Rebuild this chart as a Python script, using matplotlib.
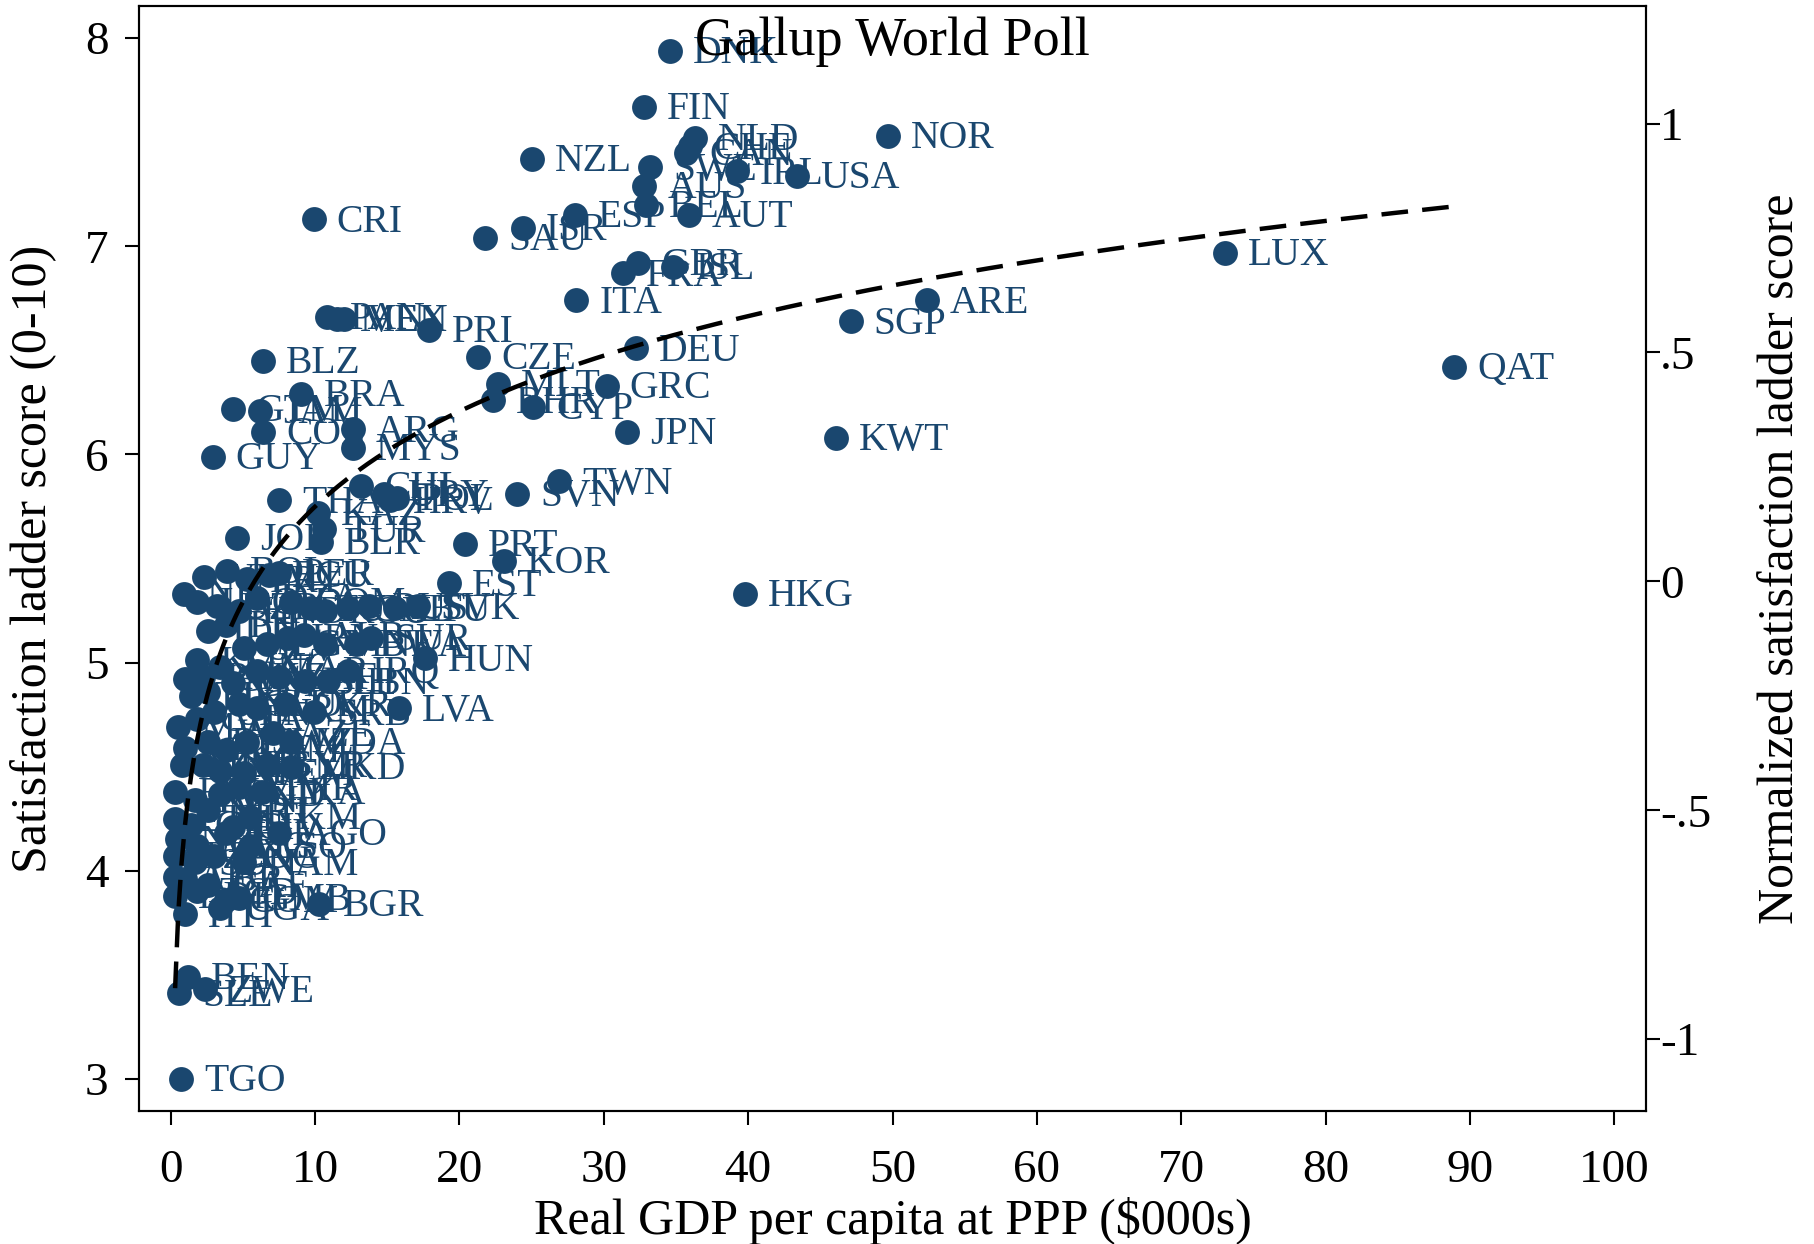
import numpy as np
import matplotlib
matplotlib.use('Agg')
import matplotlib.pyplot as plt
from matplotlib.ticker import FixedLocator, FixedFormatter

plt.rcParams['font.family'] = ['Liberation Serif', 'DejaVu Serif']

# country, real GDP per capita ($000s, PPP), satisfaction ladder score
codes = [
    'DNK', 'FIN', 'NLD', 'CHE', 'CAN', 'NOR', 'NZL', 'SWE', 'IRL', 'USA',
    'AUS', 'BEL', 'AUT', 'ESP', 'ISR', 'SAU', 'CRI', 'GBR', 'ISL', 'FRA',
    'LUX', 'ITA', 'ARE', 'PAN', 'MEX', 'VEN', 'SGP', 'PRI', 'DEU', 'CZE',
    'BLZ', 'QAT', 'MLT', 'GRC', 'BRA', 'BHR', 'CYP', 'GTM', 'JAM', 'ARG',
    'COL', 'JPN', 'KWT', 'MYS', 'GUY', 'TWN', 'CHL', 'SVN', 'URY', 'POL',
    'HRV', 'THA', 'KAZ', 'TUR', 'JOR', 'BLR', 'PRT', 'KOR', 'EST', 'HKG',
    'SVK', 'HUN', 'LVA', 'BGR', 'BEN', 'ZWE', 'SLE', 'TGO',
    'NIC', 'VNM', 'BOL', 'PRY', 'ECU', 'PER', 'LAO', 'UZB', 'HND', 'DZA',
    'DOM', 'TUN', 'ROU', 'GAB', 'RUS', 'LTU', 'IDN', 'PHL', 'KGZ', 'NGA',
    'PAK', 'MNG', 'SLV', 'EGY', 'IRN', 'ALB', 'MNE', 'BWA', 'SUR', 'TJK',
    'IND', 'CMR', 'MAR', 'ZAF', 'BIH', 'LBN', 'IRQ', 'MWI', 'GHA', 'SEN',
    'GEO', 'ARM', 'UKR', 'SRB', 'MOZ', 'BFA', 'KHM', 'SWZ', 'AZE', 'MDA',
    'MLI', 'ZMB', 'NPL', 'YEM', 'SYR', 'MKD', 'RWA', 'KEN', 'BGD', 'MMR',
    'LKA', 'ETH', 'GIN', 'MRT', 'CIV', 'TKM', 'NER', 'MDG', 'DJI', 'AGO',
    'LSO', 'TZA', 'SDN', 'COG', 'NAM', 'AFG', 'LBR', 'CAF', 'BDI', 'TCD',
    'COM', 'GMB', 'HTI', 'UGA',
]

gdp = [
    34.6, 32.8, 36.3, 36.0, 35.7, 49.7, 25.0, 33.2, 39.2, 43.4,
    32.8, 32.9, 35.9, 28.0, 24.4, 21.8, 9.9, 32.4, 34.8, 31.3,
    73.0, 28.1, 52.4, 10.8, 11.5, 12.0, 47.1, 17.9, 32.2, 21.3,
    6.4, 88.9, 22.7, 30.2, 9.0, 22.3, 25.1, 4.3, 6.2, 12.6,
    6.4, 31.6, 46.1, 12.6, 2.9, 26.9, 13.2, 24.0, 14.8, 15.7,
    15.2, 7.5, 10.2, 10.6, 4.6, 10.4, 20.4, 23.1, 19.3, 39.8,
    17.1, 17.6, 15.8, 10.3, 1.2, 2.4, 0.6, 0.7,
    0.9, 2.3, 3.9, 5.3, 6.8, 7.5, 1.8, 3.2, 4.7, 6.0,
    8.3, 9.7, 10.7, 12.3, 13.7, 15.5, 2.6, 3.8, 1.8, 1.0,
    2.2, 3.4, 5.1, 6.7, 8.1, 9.2, 10.7, 12.8, 13.9, 1.4,
    2.6, 4.3, 6.0, 7.5, 9.3, 10.9, 12.3, 0.5, 1.8, 3.0,
    4.7, 6.0, 7.9, 9.9, 1.0, 2.6, 3.8, 5.3, 7.1, 8.3,
    0.8, 2.2, 3.4, 5.1, 6.7, 8.3, 0.3, 1.7, 3.4, 4.7,
    6.3, 0.3, 1.4, 2.6, 4.3, 5.5, 0.4, 1.8, 3.8, 7.5,
    5.5, 0.3, 1.7, 3.0, 5.1, 0.3, 1.0, 2.6, 0.3, 1.8,
    3.8, 4.7, 1.0, 3.4,
]

ladder = [
    7.94, 7.67, 7.52, 7.48, 7.45, 7.53, 7.42, 7.38, 7.36, 7.34,
    7.29, 7.20, 7.15, 7.15, 7.09, 7.04, 7.13, 6.92, 6.90, 6.87,
    6.97, 6.74, 6.74, 6.66, 6.65, 6.65, 6.64, 6.60, 6.51, 6.47,
    6.45, 6.42, 6.34, 6.33, 6.29, 6.26, 6.23, 6.22, 6.21, 6.12,
    6.11, 6.11, 6.08, 6.03, 5.99, 5.87, 5.85, 5.81, 5.81, 5.79,
    5.78, 5.78, 5.72, 5.64, 5.60, 5.58, 5.57, 5.49, 5.38, 5.33,
    5.27, 5.02, 4.78, 3.84, 3.49, 3.43, 3.41, 3.00,
    5.33, 5.41, 5.44, 5.40, 5.42, 5.43, 5.29, 5.27, 5.25, 5.31,
    5.29, 5.26, 5.25, 5.26, 5.27, 5.26, 5.15, 5.18, 5.01, 4.92,
    4.93, 4.98, 5.07, 5.09, 5.12, 5.13, 5.09, 5.09, 5.12, 4.84,
    4.86, 4.90, 4.96, 4.93, 4.91, 4.91, 4.96, 4.69, 4.73, 4.76,
    4.80, 4.78, 4.80, 4.76, 4.59, 4.62, 4.58, 4.62, 4.66, 4.62,
    4.51, 4.51, 4.48, 4.47, 4.51, 4.50, 4.38, 4.34, 4.37, 4.40,
    4.38, 4.25, 4.22, 4.29, 4.21, 4.26, 4.15, 4.12, 4.18, 4.18,
    4.12, 4.07, 4.04, 4.07, 4.04, 3.97, 3.96, 3.93, 3.88, 3.90,
    3.86, 3.87, 3.79, 3.82,
]

# fitted ladder = fit_const + fit_slope * ln(gdp)
fit_const = 4.23
fit_slope = 0.66

x_ticks = list(range(0, 101, 10))
y_ticks = [3, 4, 5, 6, 7, 8]
z_ticks = [-1, -0.5, 0, 0.5, 1]
z_labels = ['-1', '-.5', '0', '.5', '1']
# right axis: (ladder - centre) / scale
z_centre = 5.39
z_scale = 2.2

navy = '#1a476f'

gdp = np.array(gdp)
ladder = np.array(ladder)

fig = plt.figure(figsize=(18.15, 12.44), dpi=100)
ax = fig.add_axes([0.0766, 0.1069, 0.8303, 0.8883])

ax.scatter(gdp, ladder, s=320, c=navy, linewidths=0, zorder=3)
for c, x, y in zip(codes, gdp, ladder):
    ax.annotate(c, (x, y), xytext=(16.5, -2), textcoords='offset points',
                va='center', ha='left', fontsize=28.5, color=navy, zorder=4)

xs = np.linspace(gdp.min(), gdp.max(), 400)
fit, = ax.plot(xs, fit_const + fit_slope * np.log(xs), color='black',
               lw=3.2, zorder=5)
fit.set_dashes([6, 3.2])

ax.set_xlim(-2.2, 102.2)
ax.set_ylim(2.845, 8.155)
ax.xaxis.set_major_locator(FixedLocator(x_ticks))
ax.yaxis.set_major_locator(FixedLocator(y_ticks))
ax.tick_params(axis='both', direction='out', length=10, width=1.5,
               labelsize=34)
ax.tick_params(axis='x', pad=18)
ax.tick_params(axis='y', pad=12)
for s in ax.spines.values():
    s.set_linewidth(1.5)

ax.set_xlabel('Real GDP per capita at PPP ($000s)', fontsize=36)
ax.set_ylabel('Satisfaction ladder score (0-10)', fontsize=36)
ax.xaxis.set_label_coords(0.5, -0.0775)
ax.yaxis.set_label_coords(-0.0545, 0.5)

ax.text(0.5, 0.968, 'Gallup World Poll', transform=ax.transAxes,
        ha='center', va='center', fontsize=39, color='black', zorder=6)

ax2 = ax.twinx()
lo, hi = ax.get_ylim()
ax2.set_ylim((lo - z_centre) / z_scale, (hi - z_centre) / z_scale)
ax2.yaxis.set_major_locator(FixedLocator(z_ticks))
ax2.yaxis.set_major_formatter(FixedFormatter(z_labels))
ax2.tick_params(axis='y', direction='out', length=10, width=1.5,
                labelsize=34, pad=0)
ax2.set_ylabel('Normalized satisfaction ladder score', fontsize=36,
               rotation=90)
ax2.yaxis.set_label_coords(1.0745, 0.5)
for s in ax2.spines.values():
    s.set_linewidth(1.5)

fig.savefig('out.png', dpi=100)
